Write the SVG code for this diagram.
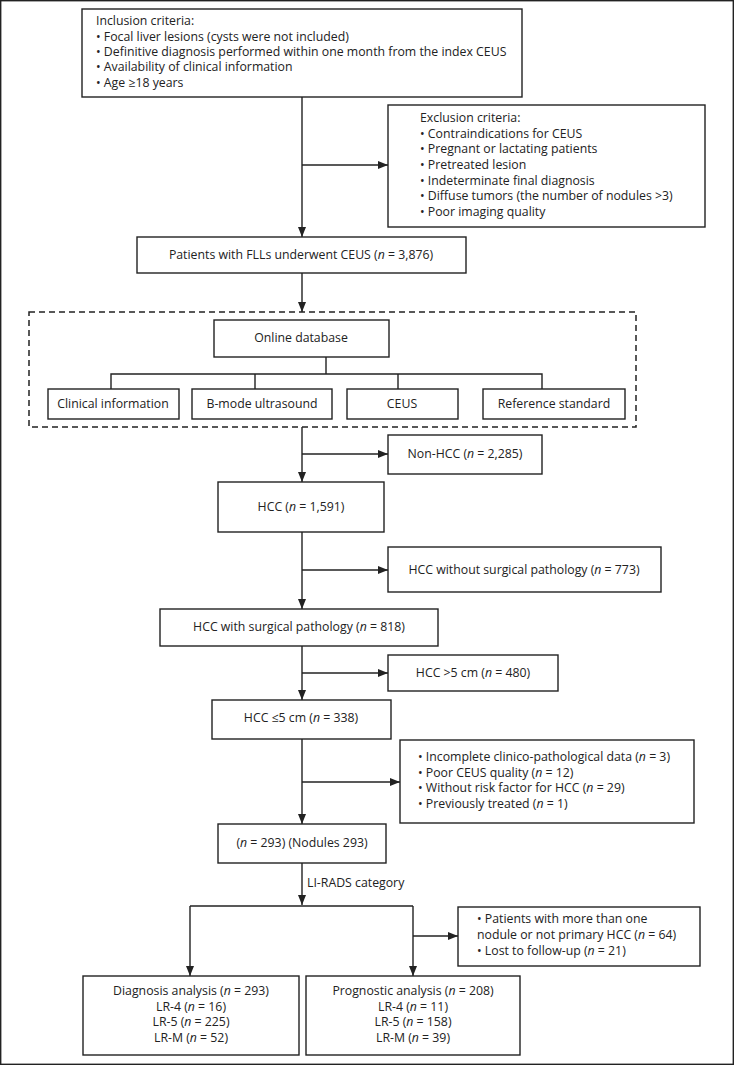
<svg xmlns="http://www.w3.org/2000/svg" width="734" height="1065" viewBox="0 0 734 1065">
<style>
.b{fill:#fff;stroke:#222;stroke-width:1.4}
.t{font-family:"Open Sans","Noto Sans",sans-serif;font-size:12.3px;fill:#222}
.c{text-anchor:middle}
.l{fill:none;stroke:#222;stroke-width:1.4}
.a{marker-end:url(#ah)}
</style>
<defs>
<marker id="ah" markerUnits="userSpaceOnUse" markerWidth="10" markerHeight="8" refX="10" refY="4" orient="auto"><path d="M0,0 L10,4 L0,8 z" fill="#222"/></marker>
</defs>
<rect x="0.7" y="0.7" width="732.6" height="1063.6" fill="#fff" stroke="#222" stroke-width="1.4"/>
<g id="connectors">
<line class="l a" x1="302" y1="97" x2="302" y2="237"/>
<line class="l a" x1="302" y1="165" x2="388" y2="165"/>
<line class="l a" x1="302" y1="273" x2="302" y2="312"/>
<path class="l" d="M326,357 V374 M111,389 V374 H542 V389 M255,374 V389 M398,374 V389"/>
<line class="l a" x1="302" y1="427" x2="302" y2="482"/>
<line class="l a" x1="302" y1="454" x2="388" y2="454"/>
<line class="l a" x1="302" y1="532" x2="302" y2="609"/>
<line class="l a" x1="302" y1="570" x2="388" y2="570"/>
<line class="l a" x1="302" y1="646" x2="302" y2="700"/>
<line class="l a" x1="302" y1="673" x2="388" y2="673"/>
<line class="l a" x1="302" y1="739" x2="302" y2="824"/>
<line class="l a" x1="302" y1="782" x2="400" y2="782"/>
<line class="l a" x1="302" y1="863" x2="302" y2="905"/>
<path class="l" d="M190,906 H413"/>
<line class="l a" x1="190" y1="906" x2="190" y2="976"/>
<line class="l a" x1="413" y1="906" x2="413" y2="976"/>
<line class="l a" x1="413" y1="936" x2="458" y2="936"/>
<text class="t" x="307" y="887">LI-RADS category</text>
</g>
<g id="inclusion">
<rect class="b" x="82" y="9" width="440" height="88"/>
<text class="t" x="96" y="25">Inclusion criteria:</text>
<text class="t" x="96" y="41">• Focal liver lesions (cysts were not included)</text>
<text class="t" x="96" y="56">• Definitive diagnosis performed within one month from the index CEUS</text>
<text class="t" x="96" y="71">• Availability of clinical information</text>
<text class="t" x="96" y="87">• Age ≥18 years</text>
</g>
<g id="exclusion">
<rect class="b" x="388" y="105" width="317" height="122"/>
<text class="t" x="420" y="122">Exclusion criteria:</text>
<text class="t" x="420" y="138">• Contraindications for CEUS</text>
<text class="t" x="420" y="153">• Pregnant or lactating patients</text>
<text class="t" x="420" y="169">• Pretreated lesion</text>
<text class="t" x="420" y="185">• Indeterminate final diagnosis</text>
<text class="t" x="420" y="200">• Diffuse tumors (the number of nodules &gt;3)</text>
<text class="t" x="420" y="216">• Poor imaging quality</text>
</g>
<g id="patients">
<rect class="b" x="137" y="237" width="329" height="36"/>
<text class="t c" x="301" y="259">Patients with FLLs underwent CEUS (<tspan font-style="italic">n</tspan> = 3,876)</text>
</g>
<g id="database">
<rect x="29" y="312" width="607" height="115" fill="none" stroke="#222" stroke-width="1.5" stroke-dasharray="6,4"/>
</g>
<g id="online">
<rect class="b" x="214" y="320" width="175" height="37"/>
<text class="t c" x="301" y="342">Online database</text>
</g>
<g id="clinical">
<rect class="b" x="48" y="389" width="131" height="30"/>
<text class="t c" x="113" y="408">Clinical information</text>
</g>
<g id="bmode">
<rect class="b" x="192" y="389" width="140" height="30"/>
<text class="t c" x="262" y="408">B-mode ultrasound</text>
</g>
<g id="ceus">
<rect class="b" x="347" y="389" width="111" height="30"/>
<text class="t c" x="402" y="408">CEUS</text>
</g>
<g id="reference">
<rect class="b" x="483" y="389" width="142" height="30"/>
<text class="t c" x="554" y="408">Reference standard</text>
</g>
<g id="nonhcc">
<rect class="b" x="388" y="435" width="154" height="39"/>
<text class="t c" x="465" y="458">Non-HCC (<tspan font-style="italic">n</tspan> = 2,285)</text>
</g>
<g id="hcc">
<rect class="b" x="218" y="482" width="166" height="50"/>
<text class="t c" x="301" y="511">HCC (<tspan font-style="italic">n</tspan> = 1,591)</text>
</g>
<g id="hccnosurg">
<rect class="b" x="388" y="547" width="273" height="45"/>
<text class="t c" x="524" y="574">HCC without surgical pathology (<tspan font-style="italic">n</tspan> = 773)</text>
</g>
<g id="hccsurg">
<rect class="b" x="160" y="609" width="278" height="37"/>
<text class="t c" x="299" y="631">HCC with surgical pathology (<tspan font-style="italic">n</tspan> = 818)</text>
</g>
<g id="hccgt5">
<rect class="b" x="388" y="655" width="170" height="36"/>
<text class="t c" x="473" y="677">HCC &gt;5 cm (<tspan font-style="italic">n</tspan> = 480)</text>
</g>
<g id="hccle5">
<rect class="b" x="212" y="700" width="179" height="39"/>
<text class="t c" x="301" y="722">HCC ≤5 cm (<tspan font-style="italic">n</tspan> = 338)</text>
</g>
<g id="exclusion2">
<rect class="b" x="400" y="740" width="294" height="83"/>
<text class="t" x="418" y="761">• Incomplete clinico-pathological data (<tspan font-style="italic">n</tspan> = 3)</text>
<text class="t" x="418" y="777">• Poor CEUS quality (<tspan font-style="italic">n</tspan> = 12)</text>
<text class="t" x="418" y="792">• Without risk factor for HCC (<tspan font-style="italic">n</tspan> = 29)</text>
<text class="t" x="418" y="808">• Previously treated (<tspan font-style="italic">n</tspan> = 1)</text>
</g>
<g id="n293">
<rect class="b" x="218" y="824" width="168" height="39"/>
<text class="t c" x="302" y="847">(<tspan font-style="italic">n</tspan> = 293) (Nodules 293)</text>
</g>
<g id="exclusion3">
<rect class="b" x="458" y="907" width="242" height="59"/>
<text class="t" x="477" y="923">• Patients with more than one</text>
<text class="t" x="477" y="939">nodule or not primary HCC (<tspan font-style="italic">n</tspan> = 64)</text>
<text class="t" x="477" y="955">• Lost to follow-up (<tspan font-style="italic">n</tspan> = 21)</text>
</g>
<g id="diagnosis">
<rect class="b" x="83" y="976" width="216" height="79"/>
<text class="t c" x="191" y="995">Diagnosis analysis (<tspan font-style="italic">n</tspan> = 293)</text>
<text class="t c" x="191" y="1011">LR-4 (<tspan font-style="italic">n</tspan> = 16)</text>
<text class="t c" x="191" y="1026">LR-5 (<tspan font-style="italic">n</tspan> = 225)</text>
<text class="t c" x="191" y="1042">LR-M (<tspan font-style="italic">n</tspan> = 52)</text>
</g>
<g id="prognostic">
<rect class="b" x="306" y="976" width="214" height="79"/>
<text class="t c" x="413" y="995">Prognostic analysis (<tspan font-style="italic">n</tspan> = 208)</text>
<text class="t c" x="413" y="1011">LR-4 (<tspan font-style="italic">n</tspan> = 11)</text>
<text class="t c" x="413" y="1026">LR-5 (<tspan font-style="italic">n</tspan> = 158)</text>
<text class="t c" x="413" y="1042">LR-M (<tspan font-style="italic">n</tspan> = 39)</text>
</g>
</svg>
